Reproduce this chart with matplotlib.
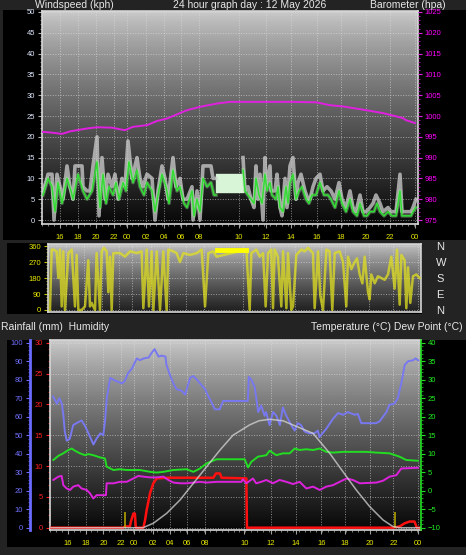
import numpy as np
import matplotlib
matplotlib.use('Agg')
import matplotlib.pyplot as plt
from matplotlib.patches import Rectangle
from matplotlib.ticker import MultipleLocator

plt.rcParams['font.family'] = ['Liberation Sans', 'DejaVu Sans']

W, H = 466, 555

# x axis is record position across the 24 hour window (records are not evenly spaced in time)
tick_pos = [18, 36, 54, 72, 85, 104, 122, 139, 157, 197, 224, 249, 275, 299, 324, 348, 373]
tick_lab = ['16', '18', '20', '22', '00', '02', '04', '06', '08',
            '10', '12', '14', '16', '18', '20', '22', '00']

# wind gust (kph)
gust_x = [1, 5, 6, 10, 12, 15, 18, 21, 25, 28, 31, 33, 40, 41, 45, 48, 51, 55, 57, 60,
          63, 66, 70, 73, 76, 80, 83, 86, 90, 95, 98, 101, 105, 110, 113, 116, 120, 123, 126, 131,
          134, 138, 141, 145, 150, 151, 155, 158, 161, 165, 169, 171, 174,
          201, 203, 206, 209, 212, 214, 216, 218, 221, 223, 224, 228, 229, 233, 235, 238, 240, 243,
          245, 248, 251, 254, 256, 259, 263, 266, 268, 271, 274, 278, 281, 285, 289, 293, 297, 300,
          304, 308, 311, 314, 318, 321, 324, 328, 331, 334, 338, 341, 346, 349, 354, 358, 360, 364,
          369, 371, 374]
gust = [7, 10, 11, 11, 0, 11, 8, 5, 13, 8, 5, 13, 13, 8, 7, 7, 13, 20, 1, 15,
        5, 11, 8, 11, 5, 10, 8, 19, 10, 15, 10, 8, 11, 10, 0, 7, 13, 10, 5, 15,
        8, 10, 5, 5, 8, 0, 7, 0, 13, 13, 13, 10, 10,
        15, 7, 8, 5, 3, 13, 5, 11, 0, 15, 8, 13, 7, 7, 11, 3, 1, 10,
        3, 13, 15, 5, 9, 11, 7, 5, 5, 8, 10, 11, 7, 8, 7, 5, 9, 5,
        3, 7, 3, 2, 6, 2, 2, 3, 4, 6, 4, 2, 3, 2, 2, 11, 2, 2,
        2, 3, 5]

# wind average (kph)
avg_x = [1, 6, 10, 13, 16, 20, 25, 29, 31, 36, 41, 45, 50, 53, 55, 58, 61, 64, 67, 71,
         74, 77, 81, 84, 87, 91, 95, 98, 102, 105, 110, 113, 116, 120, 124, 127, 131, 135, 138, 142,
         145, 150, 152, 155, 158, 161, 165, 169, 172, 174,
         201, 203, 206, 209, 212, 214, 217, 220, 223, 225, 228, 230, 234, 236, 238, 241, 244, 246,
         248, 251, 254, 257, 260, 264, 267, 270, 274, 278, 282, 286, 289, 293, 297, 300, 304, 308,
         311, 315, 318, 322, 325, 328, 332, 335, 338, 342, 346, 350, 354, 358, 360, 364, 369, 371, 374]
avg = [6, 10, 8, 2, 9, 4, 10, 7, 5, 11, 7, 5, 7, 11, 14, 3, 11, 4, 8, 6,
       9, 5, 9, 7, 14, 9, 12, 8, 6, 9, 7, 2, 6, 11, 8, 4, 12, 7, 8, 4,
       3, 7, 1, 5, 2, 10, 8, 9, 6, 6,
       12, 7, 6, 5, 4, 10, 6, 4, 11, 7, 9, 6, 5, 8, 3, 2, 8, 4,
       9, 11, 5, 7, 8, 5, 4, 6, 6, 9, 6, 6, 5, 3, 7, 4, 2, 5,
       2, 1, 4, 1, 1, 2, 2, 4, 2, 1, 2, 1, 1, 7, 1, 1, 1, 2, 3]

# repeated reading block
calm_x = [174, 201]
calm_lo = [6.8, 6.8]
calm_hi = [11, 11]

# barometer (hpa)
baro_x = [0, 10, 20, 28, 35, 45, 55, 70, 78, 83, 91, 105, 115, 125, 145, 158, 175, 188,
          208, 248, 274, 288, 301, 324, 341, 361, 364, 373]
baro = [996.2, 996.0, 995.7, 996.3, 996.6, 997.0, 997.3, 997.2, 996.8, 996.6, 997.4, 997.8,
        998.8, 999.4, 1001.4, 1002.2, 1003.0, 1003.4, 1003.4, 1003.4, 1003.3, 1002.6, 1002.3,
        1001.4, 1000.7, 999.5, 999.0, 998.3]

# wind direction (degrees)
dir_x = [2, 3.7, 5.4, 8.7, 10.4, 12.1, 13.8, 15.4, 17.1, 20.5, 23.9, 27.2, 28.9, 30.6, 33.9,
         37.3, 40.6, 42.3, 44, 47.4, 49, 52.4, 54.1, 56.4, 59.2, 60.8, 62.5, 64.2, 65.8, 72.6,
         77.6, 82.7, 89.4, 94.4, 96.1, 99.5, 101.8, 104.5, 106.2, 109.6, 112.9, 116.2, 119.6,
         121.3, 126.3, 129.7, 133, 136.4, 143.1, 149.9, 154.9, 158.3, 161.6, 166.6, 170,
         200, 203.3, 205, 210, 213.4, 216.8, 219.4, 221.8, 225.1, 226.8, 228.5, 231.8, 235.2,
         236.9, 240.3, 241.9, 245.3, 247, 250.3, 255.4, 258.7, 262.1, 267.1, 268.8, 272.2, 274.5,
         277.2, 280.6, 283.9, 286.6, 289, 294, 297.4, 300.7, 302.4, 305.8, 309.1, 311.5, 314.2,
         316.9, 319.2, 322.6, 324.2, 325.9, 329.3, 332.6, 336, 339.4, 342.7, 346.1, 349.4, 351.8,
         354.5, 356.2, 359.5, 361.2, 362.9, 365.2, 367.9, 371.3, 374.6]
dir_deg = [0, 340, 340, 330, 180, 340, 20, 330, 0, 320, 340, 20, 310, 0, 0,
           20, 280, 20, 40, 0, 320, 0, 330, 350, 330, 100, 300, 0, 320, 320,
           300, 330, 320, 330, 10, 340, 20, 330, 0, 330, 0, 330, 0,
           340, 330, 320, 270, 320, 310, 320, 340, 20, 320, 330, 300,
           340, 0, 320, 340, 300, 320, 20, 320, 340, 10, 340, 300, 20,
           330, 10, 320, 0, 20, 310, 340, 330, 350, 320, 10, 330, 80,
           0, 340, 330, 0, 320, 330, 270, 20, 300, 230, 270, 290, 200,
           150, 300, 100, 60, 200, 150, 190, 180, 170, 200, 300, 120, 340,
           30, 310, 280, 10, 240, 40, 190, 200, 180]
dir_hold_x = [170, 200]
dir_hold = [340, 340]

# humidity (%)
hum_x = [3, 7, 9.5, 12, 13.5, 15, 17, 20, 23.5, 28.5, 32, 35.5, 39, 44, 47, 51, 54, 56, 57.5,
         61, 66, 73, 76, 79, 83, 88, 91, 95, 100, 103, 106, 110, 113, 117, 118, 122, 125, 128,
         133.5, 137, 142, 145, 149, 152, 157, 160, 164, 167, 172, 175.5, 200.5, 201.5, 204,
         207.5, 211, 214, 217.5, 219, 222.5, 226, 229.5, 233, 236, 239.5, 244.5, 248, 251,
         254.5, 258, 263, 268, 271.5, 273, 280, 287, 292, 297, 302, 309, 312, 315.5, 330.5,
         334, 337.5, 341, 344, 349, 352.5, 356, 359.5, 363, 368, 370.5, 373]
hum = [71, 67, 70, 67, 61, 52, 47, 48, 55.5, 57, 58, 55, 51, 45, 48, 51, 50, 59, 70,
       81, 79.5, 78, 79.5, 83.5, 86, 91.5, 90.5, 91.5, 92, 94.5, 96.5, 92.5, 93, 92.5, 88, 82, 78, 75,
       74, 72, 81, 82, 80, 78, 75, 71.5, 67.5, 64, 64, 68.5, 68.5, 81.5, 80,
       76, 62.5, 66, 60.5, 62.5, 55.5, 62.5, 60.5, 55.5, 65, 60.5, 55.5, 52.5, 56.5,
       55.5, 52, 51, 51, 52.5, 49, 53.5, 59, 62, 61, 62.5, 61, 61.5, 56.5, 56.5,
       57.5, 60, 62.5, 66.5, 67, 70, 78, 88, 90, 90.5, 91.5, 90.5]

# temperature (C)
temp_x = [3.4, 8.4, 13.5, 18.6, 22, 25.3, 30.4, 35.5, 38.8, 43.9, 50.7, 55.7, 57.4, 64.2, 70.9,
          77.7, 91.2, 101.4, 108.1, 114.9, 125, 138.5, 145.3, 152, 158.8, 168.9, 185.5,
          197.3, 200.7, 204, 210.8, 219.2, 222.6, 229.4, 236.1, 242.9, 248, 253, 259.8, 266.6,
          273.3, 280, 286.8, 297, 307, 320.6, 330.7, 344.2, 354.3, 361, 372.8]
temp = [8.3, 9.4, 10.1, 11, 11.4, 10.8, 10.1, 9.6, 9.9, 9.6, 9.0, 8.7, 6.5, 5.6, 5.8,
        5.6, 5.6, 5.1, 4.9, 5.1, 5.6, 5.8, 5.1, 6.0, 7.4, 8.5, 8.5,
        8.5, 6.3, 7.8, 9.2, 9.6, 10.8, 9.6, 10.1, 10.1, 11.4, 11, 11.2, 11,
        11.4, 10.5, 10.3, 10.5, 10.5, 10.5, 10.3, 10.1, 9.2, 8.3, 8.1]

# dew point (C)
dew_x = [3.4, 8.4, 11.8, 13.5, 16.9, 20.3, 23.6, 28.7, 32, 37.2, 40.5, 43.9, 47.3, 52.4, 56.7,
         57.4, 64.2, 70.9, 77.7, 84.5, 89.5, 94.6, 101.4, 108.1, 114.9, 119.9, 125, 131.8, 138.5,
         145.3, 152, 158.8, 168.9, 185.5, 193.9, 195.6, 199, 205.7, 209, 214.1, 219.2, 225.9,
         232.7, 239.5, 246.3, 253, 259.8, 266.6, 273.3, 280, 286.8, 293.6, 300.4, 307, 314,
         330.7, 337.5, 344.2, 351, 356, 372.8]
dew = [2.9, 3.8, 4.0, 1.5, 0.6, 0.2, 1.1, 1.5, 0.6, 0.2, -0.7, -2.1, -1.2, -1.2, -1.2,
       2.0, 2.0, 2.4, 2.4, 3.3, 4.0, 3.8, 3.6, 3.6, 3.8, 2.9, 2.2, 2.0, 2.0,
       2.2, 2.4, 2.2, 2.4, 2.4, 2.4, 3.1, 2.0, 3.3, 2.0, 2.4, 2.9, 2.0,
       2.9, 2.4, 1.8, 2.4, 0.6, 1.1, 0.2, 1.1, 1.5, 2.4, 3.3, 2.9, 2.0,
       2.2, 2.7, 3.8, 4.2, 6.0, 6.2]

# rainfall (mm)
rain_x = [0, 74.3, 75.9, 81, 82, 84.5, 86, 87, 94.6, 96.3, 98, 101.4, 104.7, 108.1, 118.2,
          165.5, 168.2, 172.3, 173.9, 199, 199.6, 347.5, 354.3, 359.3, 364.4, 369.4, 371.8, 376]
rain = [0, 0, 0.2, 0.2, 1.0, 2.3, 2.3, 0, 0, 1.2, 2.9, 5.6, 7.2, 8.0, 8.1,
        8.1, 8.8, 8.8, 8.1, 8.0, 0, 0, 0.2, 0.7, 1.0, 1.0, 0, 0]

# sun curve (plotted on the temperature scale)
sun_x = [0, 94.3, 104.7, 118.3, 131.8, 145.3, 158.8, 172.3, 185.5, 202.4, 211.8, 222.7, 236.1,
         253.1, 266.6, 283.5, 297, 310.4, 324, 337.5, 347.6, 354.7, 376]
sun = [-10, -10, -8.8, -6.1, -2.5, 2.0, 6.5, 11, 15, 17.8, 18.9, 19.3, 18.9,
       17, 15.5, 10.1, 5.1, 0.2, -4.3, -7.9, -9.7, -10, -10]

mark_x = [76, 350]


def box(x0, y0, x1, y1):
    return [x0 / W, 1 - y1 / H, (x1 - x0) / W, (y1 - y0) / H]


def broken(xs, ys, gap=20):
    # break the line where records are missing
    x = np.asarray(xs, float)
    y = np.asarray(ys, float)
    cut = np.where(np.diff(x) > gap)[0] + 1
    return np.insert(x, cut, np.nan), np.insert(y, cut, np.nan)


def gradient(ax, top=0.8, bottom=0.03):
    g = top + (bottom - top) * np.linspace(0, 1, 256) ** 0.8
    ax.imshow(g.reshape(-1, 1), cmap='gray', vmin=0, vmax=1, extent=[0, 1, 0, 1], origin='upper',
              transform=ax.transAxes, aspect='auto', zorder=0, interpolation='bilinear')


def xstyle(ax, labels=True, pad=4):
    ax.set_xlim(0, 376)
    ax.set_xticks(tick_pos)
    ax.set_xticklabels(tick_lab if labels else [])
    ax.xaxis.set_minor_locator(MultipleLocator(6))
    ax.tick_params(axis='x', which='major', colors='#a0a0a0', labelcolor='#e8e800',
                   labelsize=5.5, length=3 if labels else 0, pad=pad)
    ax.tick_params(axis='x', which='minor', colors='#909090', length=1.5 if labels else 0)
    ax.grid(True, which='major', color='#e0e0e0', linestyle=':', linewidth=0.7, alpha=0.6)


fig = plt.figure(figsize=(W / 100, H / 100), dpi=100, facecolor='#232323')

# black backing panels, drawn on a background axes behind everything
bg = fig.add_axes([0, 0, 1, 1], zorder=-10)
bg.set_xlim(0, W)
bg.set_ylim(H, 0)
bg.axis('off')
for x0, y0, x1, y1 in [(3, 10, 466, 240), (7, 243, 422, 314), (7, 340, 466, 547)]:
    bg.add_patch(Rectangle((x0, y0), x1 - x0, y1 - y0, facecolor='black', edgecolor='none'))

txt = dict(color='#e8e8e8', fontsize=7.5, va='center')
fig.text(35 / W, 1 - 5 / H, 'Windspeed (kph)', ha='left', **txt)
fig.text(250 / W, 1 - 5 / H, '24 hour graph day : 12 May 2026', ha='center', **txt)
fig.text(446 / W, 1 - 5 / H, 'Barometer (hpa)', ha='right', **txt)
fig.text(1 / W, 1 - 327 / H, 'Rainfall (mm)  Humidity', ha='left', **txt)
fig.text(463 / W, 1 - 327 / H, 'Temperature (°C) Dew Point (°C)', ha='right', **txt)

# ---- wind speed / barometer ----
ax1 = fig.add_axes(box(42, 11, 418, 224))
gradient(ax1)
ax1.fill_between(calm_x, calm_lo, calm_hi, color='#d8f5d8', zorder=2)
gx, gy = broken(gust_x, gust)
ax1.plot(gx, gy, color='#d0d0d0', lw=2.6, alpha=0.75, zorder=3)
ax_, ay = broken(avg_x, avg)
ax1.plot(ax_, ay, color='#aaffaa', lw=2.6, alpha=0.35, zorder=4)
ax1.plot(ax_, ay, color='#33dd33', lw=1.1, zorder=5)
ax1.set_ylim(-0.96, 50.24)
ax1.set_yticks(range(0, 51, 5))
ax1.yaxis.set_minor_locator(MultipleLocator(1))
ax1.tick_params(axis='y', which='major', colors='#b0b0b0', labelcolor='#e0e8ff',
                labelsize=5.5, length=3, pad=2)
ax1.tick_params(axis='y', which='minor', colors='#909090', length=1.5)
xstyle(ax1, pad=4)
for s in ax1.spines.values():
    s.set_color('#d8d8d8')
    s.set_linewidth(1.2)

ax1b = ax1.twinx()
ax1b.plot(baro_x, baro, color='#e020e0', lw=1.4)
ax1b.set_ylim(974.04, 1025.24)
ax1b.set_yticks(range(975, 1026, 5))
ax1b.yaxis.set_minor_locator(MultipleLocator(1))
ax1b.tick_params(axis='y', which='major', colors='#e020e0', labelcolor='#ff00ff',
                 labelsize=5.5, length=3, pad=2)
ax1b.tick_params(axis='y', which='minor', colors='#c010c0', length=1.5)
for s in ax1b.spines.values():
    s.set_visible(False)
ax1b.set_xlim(0, 376)

# ---- wind direction ----
ax2 = fig.add_axes(box(48, 244, 421, 312))
gradient(ax2, 0.78, 0.12)
ax2.plot(dir_x, dir_deg, color='#e0e020', lw=1.8, alpha=0.75, zorder=3)
ax2.plot(dir_hold_x, dir_hold, color='#ffff00', lw=3.5, zorder=4)
ax2.set_ylim(-11.25, 371.25)
ax2.set_yticks([0, 90, 180, 270, 360])
ax2.yaxis.set_minor_locator(MultipleLocator(18))
ax2.tick_params(axis='y', which='major', colors='#c0c000', labelcolor='#e8e800',
                labelsize=5.5, length=3, pad=2)
ax2.tick_params(axis='y', which='minor', colors='#a0a000', length=1.5)
xstyle(ax2, labels=False)
for s in ax2.spines.values():
    s.set_color('#d8d8d8')
    s.set_linewidth(1.2)

ax2b = ax2.twinx()
ax2b.set_ylim(-11.25, 371.25)
ax2b.set_yticks([0, 90, 180, 270, 360])
ax2b.set_yticklabels(['N', 'E', 'S', 'W', 'N'])
ax2b.tick_params(axis='y', length=0, pad=11, labelsize=8, labelcolor='#e8e8e8')
for s in ax2b.spines.values():
    s.set_visible(False)

# ---- rain / humidity / temperature ----
ax3 = fig.add_axes(box(50, 340, 421, 530))
gradient(ax3)
ax3.plot(rain_x, rain, color='#ff1010', lw=1.8, zorder=3)
ax3.vlines(mark_x, 0, 2.6, color='#b0a000', lw=1.2, zorder=4)
ax3.set_ylim(-0.373, 30.44)
ax3.set_yticks(range(0, 31, 5))
ax3.yaxis.set_minor_locator(MultipleLocator(1))
ax3.tick_params(axis='y', which='major', colors='#ff2020', labelcolor='#ff2020',
                labelsize=5.5, length=3, pad=2)
ax3.tick_params(axis='y', which='minor', colors='#d01010', length=1.5)
xstyle(ax3, pad=4)
for s in ax3.spines.values():
    s.set_color('#d8d8d8')
    s.set_linewidth(1.2)
ax3.spines['right'].set_visible(False)

ax3h = ax3.twinx()
ax3h.plot(hum_x, hum, color='#7878f0', lw=1.4)
ax3h.set_ylim(-1.24, 101.46)
ax3h.yaxis.tick_left()
ax3h.spines['left'].set_position(('outward', 14.4))
ax3h.spines['left'].set_color('#6a6aff')
ax3h.spines['left'].set_linewidth(2)
for k in ['right', 'top', 'bottom']:
    ax3h.spines[k].set_visible(False)
ax3h.set_yticks(range(0, 101, 10))
ax3h.yaxis.set_minor_locator(MultipleLocator(2))
ax3h.tick_params(axis='y', which='major', colors='#6a6aff', labelcolor='#7070ff',
                 labelsize=5.5, length=3, pad=2)
ax3h.tick_params(axis='y', which='minor', colors='#5a5ae0', length=1.5)

ax3t = ax3.twinx()
ax3t.plot(temp_x, temp, color='#22dd22', lw=1.4)
ax3t.plot(dew_x, dew, color='#dd22dd', lw=1.4)
ax3t.plot(sun_x, sun, color='#d8d8d8', lw=1.1, alpha=0.75)
ax3t.set_ylim(-10.62, 40.73)
ax3t.set_yticks(range(-10, 41, 5))
ax3t.yaxis.set_minor_locator(MultipleLocator(1))
ax3t.tick_params(axis='y', which='major', colors='#22dd22', labelcolor='#22ee22',
                 labelsize=5.5, length=3, pad=2)
ax3t.tick_params(axis='y', which='minor', colors='#1cb01c', length=1.5)
for k in ['left', 'top', 'bottom']:
    ax3t.spines[k].set_visible(False)
ax3t.spines['right'].set_color('#22dd22')
ax3t.spines['right'].set_linewidth(1.2)
ax3t.set_xlim(0, 376)
ax3h.set_xlim(0, 376)

fig.savefig('out.png', dpi=100, facecolor=fig.get_facecolor())
